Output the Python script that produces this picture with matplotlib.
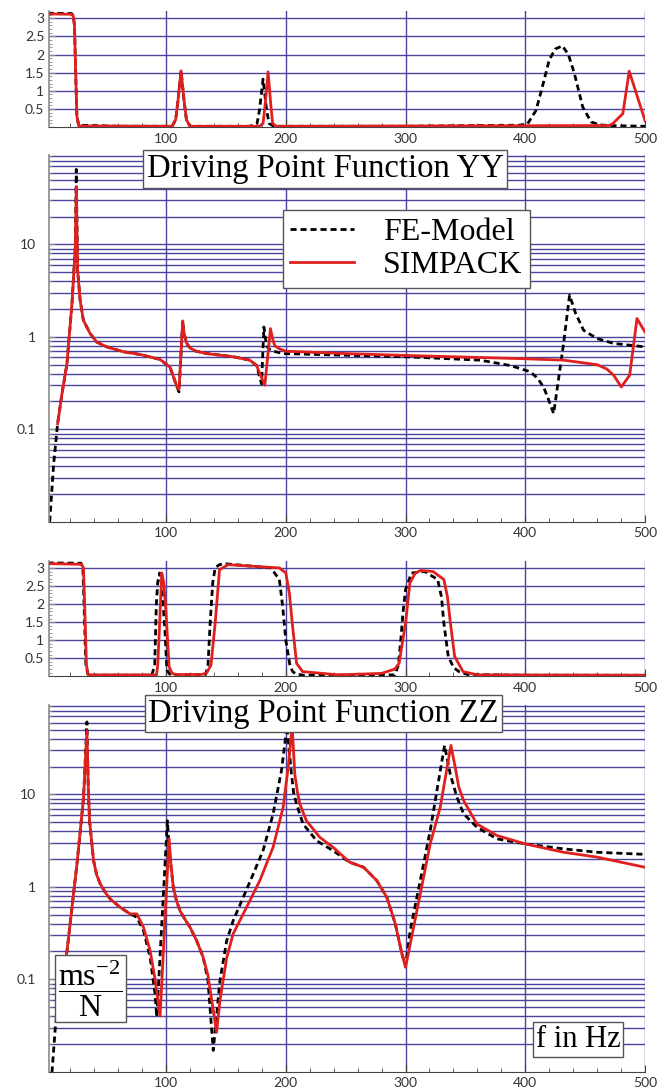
import numpy as np
import matplotlib
matplotlib.use("Agg")
import matplotlib.pyplot as plt
from matplotlib.ticker import FixedLocator, FixedFormatter, NullFormatter

plt.rcParams['mathtext.fontset'] = 'custom'
plt.rcParams['mathtext.rm'] = 'Liberation Serif'
plt.rcParams['mathtext.it'] = 'Liberation Serif:italic'

# ---- data (f in Hz) ----
# phase YY
f_phyy_fe = [1, 21, 22.5, 23.5, 24.5, 25.5, 27, 60, 105, 108, 110, 112.5, 115, 117, 120, 170, 176, 178, 181,
             184, 186, 190, 300, 395, 402, 409, 415, 420, 425, 431, 436, 441, 448, 455, 462, 470, 500]
v_phyy_fe = [3.14, 3.13, 3.08, 2.8, 1.5, 0.3, 0.05, 0.02, 0.02, 0.2, 0.74, 1.55, 0.74, 0.2, 0.02, 0.02, 0.1,
             0.46, 1.32, 0.46, 0.1, 0.02, 0.02, 0.05, 0.09, 0.46, 1.2, 1.85, 2.15, 2.24, 2.0, 1.48, 0.55,
             0.14, 0.06, 0.04, 0.02]
f_phyy_sp = [1, 21, 22.5, 23.5, 24.5, 25.5, 27, 105, 108, 110, 112.5, 115, 117, 120, 178, 181, 183, 185.2,
             187.5, 189, 192, 470, 473, 481.5, 486.8, 500]
v_phyy_sp = [3.12, 3.11, 3.06, 2.8, 1.5, 0.3, 0.03, 0.02, 0.2, 0.74, 1.55, 0.74, 0.2, 0.02, 0.02, 0.1, 0.7,
             1.52, 0.6, 0.1, 0.02, 0.04, 0.09, 0.37, 1.54, 0.18]

# magnitude YY
f_magyy_fe = [2.8, 6.1, 9.4, 13, 17.2, 21.4, 24.2, 25.0, 26.1, 28.2, 30.9, 36.5, 42.1, 50.4, 64.4, 78.3, 95,
              103.3, 109, 110.8, 113.9, 115, 117.2, 120, 125, 134, 156, 170, 175.6, 179.7, 181.7, 183.9,
              186, 189.4, 197.8, 237, 300, 362.4, 387.5, 404, 410, 415.3, 420, 423.7, 432, 437, 442, 448.7,
              455, 460, 473.8, 500]
v_magyy_fe = [0.01, 0.042, 0.115, 0.24, 0.51, 2.3, 9.4, 65, 5.3, 2.5, 1.52, 1.09, 0.88, 0.78, 0.69, 0.645,
              0.57, 0.47, 0.29, 0.254, 1.49, 1.1, 0.85, 0.76, 0.70, 0.66, 0.61, 0.56, 0.49, 0.31, 1.28, 0.80,
              0.74, 0.70, 0.66, 0.64, 0.61, 0.56, 0.49, 0.42, 0.36, 0.287, 0.2, 0.148, 0.85, 2.83, 1.8, 1.18,
              1.05, 0.96, 0.85, 0.78]
f_magyy_sp = [9.4, 13, 17.2, 21.4, 24.2, 25.0, 26.1, 28.2, 30.9, 36.5, 42.1, 50.4, 64.4, 78.3, 95, 103.3,
              109, 110.8, 113.9, 115, 117.2, 120, 125, 134, 156, 170, 175.6, 178.3, 182.5, 187.2, 189,
              190.8, 195, 200, 250, 300, 400, 432, 460, 468, 473.8, 480.2, 487.2, 493.3, 500]
v_magyy_sp = [0.115, 0.24, 0.51, 2.3, 9.4, 42, 5.3, 2.5, 1.52, 1.09, 0.88, 0.78, 0.69, 0.645, 0.57, 0.47,
              0.29, 0.27, 1.49, 1.1, 0.85, 0.76, 0.70, 0.66, 0.61, 0.56, 0.49, 0.40, 0.30, 1.23, 0.95, 0.80,
              0.74, 0.70, 0.66, 0.63, 0.58, 0.56, 0.50, 0.45, 0.385, 0.287, 0.385, 1.58, 1.13]

# phase ZZ
f_phzz_fe = [1, 29, 30.5, 31.5, 33, 35, 88, 90.5, 91.8, 93, 94.6, 96.5, 99, 100.7, 103, 105, 133, 135, 136.8,
             139, 141, 144, 148, 187.5, 194.6, 197.5, 200, 203.6, 206, 209, 215, 291, 294, 296, 298, 300,
             305, 316, 326.8, 330, 332, 335.7, 340, 344.6, 351.8, 400, 500]
v_phzz_fe = [3.14, 3.13, 3.0, 2.0, 0.3, 0.03, 0.03, 0.3, 1.94, 2.6, 2.86, 2.5, 1.3, 0.18, 0.06, 0.03, 0.05,
             0.3, 1.47, 2.6, 3.0, 3.08, 3.12, 3.0, 2.68, 1.9, 1.0, 0.27, 0.12, 0.06, 0.03, 0.04, 0.3, 1.0,
             1.8, 2.4, 2.86, 2.9, 2.68, 2.2, 1.47, 0.55, 0.25, 0.13, 0.05, 0.03, 0.03]
f_phzz_sp = [1, 29.5, 31, 32, 33.5, 35, 92, 93, 94, 96.4, 98, 100, 102.5, 105, 108, 130, 134, 137.5, 141,
             144.6, 151.8, 194.6, 200, 203, 205.4, 209, 214, 244, 280, 291, 294.6, 300, 303.6, 308, 312.5,
             323, 332, 335, 337.5, 341, 348, 360, 500]
v_phzz_sp = [3.12, 3.1, 3.0, 2.0, 0.3, 0.04, 0.04, 0.3, 1.0, 2.86, 2.6, 1.75, 0.27, 0.08, 0.05, 0.05, 0.1,
             0.31, 1.47, 2.95, 3.09, 3.0, 2.86, 2.3, 1.47, 0.36, 0.13, 0.04, 0.08, 0.2, 0.36, 1.47, 2.58,
             2.85, 2.93, 2.9, 2.68, 2.2, 1.47, 0.55, 0.13, 0.04, 0.03]

# magnitude ZZ
f_magzz_fe = [4.7, 7.5, 10, 15, 17.2, 25.6, 31.1, 33.9, 35, 36.1, 39.4, 42, 45, 49, 53.3, 61.7, 70, 75.6,
              81.1, 86.7, 90.8, 92.2, 101.1, 103, 106, 108.5, 111.7, 116, 120, 125.6, 131, 135, 139.4, 145,
              150.6, 156, 164.4, 172.8, 181, 189.4, 196.4, 201, 204.7, 206.5, 208.9, 214.4, 225.6, 239.4,
              253.3, 265, 276, 284.4, 291.4, 297, 300, 303.9, 312.3, 320.6, 326.2, 332.6, 337.3, 342.9,
              348.5, 359.6, 376.3, 400, 432, 460, 500]
v_magzz_fe = [0.0098, 0.03, 0.06, 0.13, 0.2, 1.78, 9.35, 61, 12, 5.2, 1.93, 1.35, 1.08, 0.88, 0.74, 0.60,
              0.51, 0.47, 0.337, 0.173, 0.069, 0.039, 5.2, 2.2, 1.0, 0.72, 0.55, 0.44, 0.366, 0.26, 0.173,
              0.097, 0.017, 0.097, 0.26, 0.43, 0.77, 1.38, 2.47, 6.17, 18.2, 55, 16.7, 10.5, 7.9, 4.8, 3.17,
              2.47, 1.85, 1.63, 1.17, 0.77, 0.40, 0.188, 0.14, 0.337, 1.17, 4.07, 11.0, 34, 16.7, 9.35, 6.17,
              4.43, 3.31, 2.92, 2.58, 2.37, 2.25]
f_magzz_sp = [10, 15, 17.2, 25.6, 31.1, 33.9, 35, 36.1, 39.4, 42, 45, 49, 53.3, 61.7, 70, 75.6, 81.1, 86.7,
              90.8, 95, 102.5, 104, 106, 108.5, 111.7, 116, 120, 125.6, 131, 135, 142.2, 145, 150.6, 156,
              167.2, 178.3, 189.4, 197.8, 202, 205.3, 207.5, 209.5, 211.7, 217.2, 228.3, 239.4, 253.3, 265,
              276, 284.4, 291.4, 297, 300, 303.9, 312.3, 320.6, 329, 337.9, 341.5, 344.5, 348.5, 359.6,
              376.3, 400, 432, 460, 500]
v_magzz_sp = [0.06, 0.13, 0.2, 1.78, 9.35, 49, 12, 5.2, 1.93, 1.35, 1.08, 0.88, 0.74, 0.60, 0.51, 0.51,
              0.366, 0.204, 0.10, 0.040, 3.31, 1.8, 1.0, 0.72, 0.55, 0.44, 0.366, 0.26, 0.173, 0.11, 0.0267,
              0.059, 0.17, 0.31, 0.60, 1.17, 2.69, 7.3, 19.7, 55, 16.7, 11, 7.9, 5.2, 3.45, 2.69, 1.85, 1.63,
              1.17, 0.77, 0.40, 0.188, 0.135, 0.24, 0.84, 2.92, 7.3, 34, 19.7, 12, 8.6, 4.8, 3.6, 2.92, 2.37,
              2.1, 1.63]

xticks = [100, 200, 300, 400, 500]
phase_ticks = [0.5, 1, 1.5, 2, 2.5, 3]
phase_labels = ["0.5", "1", "1.5", "2", "2.5", "3"]

grid_col = '#4a449c'
red = '#e0201e'
W, H = 667, 1090

fig = plt.figure(figsize=(W / 100, H / 100), dpi=100)


def panel(top, bottom):
    left, right = 48.5, 645
    return fig.add_axes([left / W, 1 - bottom / H, (right - left) / W, (bottom - top) / H])


def style(ax):
    ax.set_xlim(1.8, 500)
    for s in ['top', 'right']:
        ax.spines[s].set_visible(False)
    ax.spines['left'].set_color('#8a8a8a')
    ax.spines['left'].set_linewidth(1.2)
    ax.spines['bottom'].set_color('#444444')
    ax.xaxis.set_major_locator(FixedLocator(xticks))
    ax.xaxis.set_minor_locator(FixedLocator(np.arange(20, 500, 20)))
    ax.tick_params(axis='x', which='both', direction='in', colors='#444444', labelcolor='#333333',
                   labelsize=10, pad=4)
    ax.tick_params(axis='x', which='major', length=5)
    ax.tick_params(axis='x', which='minor', length=3)
    ax.tick_params(axis='y', which='both', direction='in', colors='#8a8a8a', labelcolor='#333333',
                   labelsize=10)
    for x in xticks:
        ax.axvline(x, color=grid_col, lw=1.0, zorder=0)


def phase_panel(top, bottom, f1, v1, f2, v2):
    ax = panel(top, bottom)
    style(ax)
    ax.set_ylim(0, 3.2)
    ax.yaxis.set_major_locator(FixedLocator(phase_ticks))
    ax.yaxis.set_major_formatter(FixedFormatter(phase_labels))
    ax.yaxis.set_minor_locator(FixedLocator(np.arange(0.1, 3.2, 0.1)))
    ax.tick_params(axis='y', which='major', length=4, pad=3)
    ax.tick_params(axis='y', which='minor', length=2)
    for y in phase_ticks:
        ax.axhline(y, color=grid_col, lw=1.0, zorder=0)
    ax.plot(f1, v1, color='black', lw=2, ls=(0, (2.2, 1.4)), zorder=2)
    ax.plot(f2, v2, color=red, lw=2, zorder=3)
    for t in ax.get_xticklabels() + ax.get_yticklabels():
        t.set_family('Lato')
    return ax


def mag_panel(top, bottom, f1, v1, f2, v2):
    ax = panel(top, bottom)
    style(ax)
    ax.set_yscale('log')
    ax.set_ylim(0.01, 93)
    ax.yaxis.set_major_locator(FixedLocator([0.1, 1, 10]))
    ax.yaxis.set_major_formatter(FixedFormatter(["0.1", "1", "10"]))
    minors = [m * 10.0 ** k for k in range(-2, 2) for m in range(2, 10)]
    ax.yaxis.set_minor_locator(FixedLocator(minors))
    ax.yaxis.set_minor_formatter(NullFormatter())
    ax.tick_params(axis='y', which='major', length=4, pad=9)
    ax.tick_params(axis='y', which='minor', length=2)
    for k in range(-2, 2):
        for m in range(1, 10):
            y = m * 10.0 ** k
            if 0.01 < y < 93:
                ax.axhline(y, color=grid_col, lw=1.0, zorder=0)
    ax.plot(f1, v1, color='black', lw=2, ls=(0, (2.2, 1.4)), label='FE-Model', zorder=2)
    ax.plot(f2, v2, color=red, lw=2, label='SIMPACK', zorder=3)
    for t in ax.get_xticklabels() + ax.get_yticklabels():
        t.set_family('Lato')
    return ax


ax1 = phase_panel(11, 127, f_phyy_fe, v_phyy_fe, f_phyy_sp, v_phyy_sp)
ax2 = mag_panel(155, 521.7, f_magyy_fe, v_magyy_fe, f_magyy_sp, v_magyy_sp)
ax3 = phase_panel(560.7, 676.3, f_phzz_fe, v_phzz_fe, f_phzz_sp, v_phzz_sp)
ax4 = mag_panel(705, 1071.7, f_magzz_fe, v_magzz_fe, f_magzz_sp, v_magzz_sp)

box = dict(boxstyle='square,pad=0.1', facecolor='white', edgecolor='#555555', lw=1)
fig.text(325 / W, 1 - 169 / H, 'Driving Point Function YY', family='Liberation Serif', fontsize=23.5,
         ha='center', va='center', bbox=box, zorder=10)
fig.text(323.5 / W, 1 - 713.5 / H, 'Driving Point Function ZZ', family='Liberation Serif', fontsize=23.5,
         ha='center', va='center', bbox=box, zorder=10)

leg = ax2.legend(loc='center', bbox_to_anchor=(406.5 / W, 1 - 249 / H), bbox_transform=fig.transFigure,
                 prop={'family': 'Liberation Serif', 'size': 23}, fancybox=False, framealpha=1,
                 edgecolor='#555555', handlelength=2.0, handletextpad=0.9, labelspacing=0.1,
                 borderpad=0.25, borderaxespad=0)
leg.get_frame().set_linewidth(1)
leg.set_zorder(10)

fig.text(90.5 / W, 1 - 988.5 / H, r'$\dfrac{\mathrm{ms}^{-2}}{\mathrm{N}}$', fontsize=23,
         ha='center', va='center', bbox=dict(boxstyle='square,pad=0.1', facecolor='white',
                                              edgecolor='#555555', lw=1), zorder=10)
fig.text(578 / W, 1 - 1039.4 / H, 'f in Hz', family='Liberation Serif', fontsize=22,
         ha='center', va='center', bbox=box, zorder=10)

fig.savefig('out.png', dpi=100)
